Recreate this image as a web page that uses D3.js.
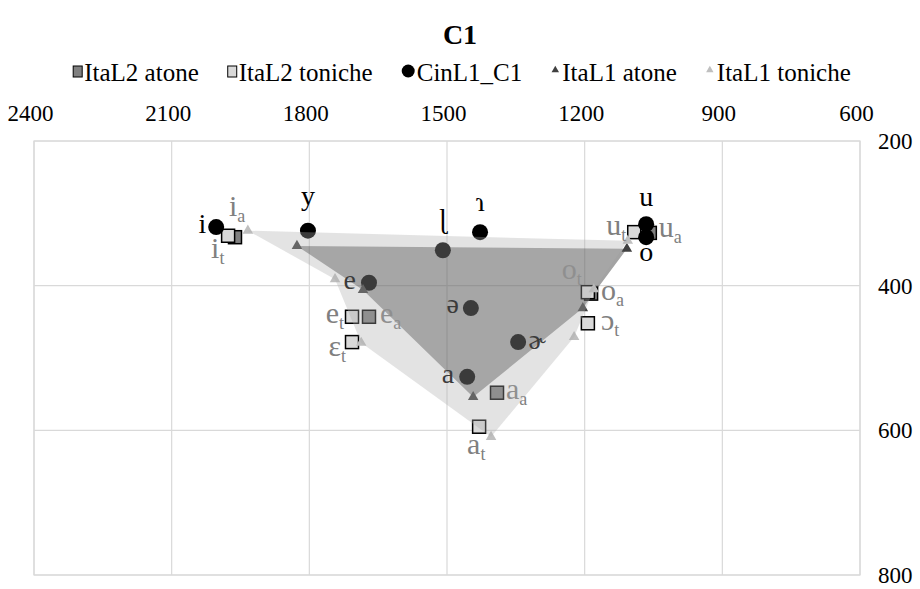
<!DOCTYPE html>
<html><head><meta charset="utf-8">
<script src="https://cdn.jsdelivr.net/npm/d3@7"></script>
<style>body{margin:0;background:#fff}svg{display:block} text{font-family:"Liberation Serif","DejaVu Serif",serif;}</style>
</head><body>
<svg id="c" width="920" height="589"></svg>
<script>
// ---------- data ----------
const title = "C1";
const f2Ticks = [2400, 2100, 1800, 1500, 1200, 900, 600];
const f1Ticks = [200, 400, 600, 800];
const seriesNames = ["ItaL2 atone", "ItaL2 toniche", "CinL1_C1", "ItaL1 atone", "ItaL1 toniche"];

const cinVowels = ["i", "y", "ɿ", "ɭ", "u", "o", "e", "ə", "ɚ", "a"];
const cinF2 = [2003, 1803, 1428, 1509, 1066, 1066, 1670, 1448, 1345, 1456];
const cinF1 = [319, 324, 326, 351, 315, 333, 396, 431, 478, 526];

const l2AtoneVowels = ["i", "e", "a", "o", "u"];
const l2AtoneF2 = [1962, 1670, 1391, 1186, 1058];
const l2AtoneF1 = [333, 443, 548, 411, 327];

const l2TonVowels = ["i", "e", "ɛ", "a", "ɔ", "o", "u"];
const l2TonF2 = [1977, 1707, 1707, 1430, 1193, 1193, 1092];
const l2TonF1 = [331, 443, 478, 595, 452, 409, 326];

const l1AtoneVowels = ["i", "e", "a", "o", "u"];
const l1AtoneF2 = [1827, 1683, 1443, 1204, 1108];
const l1AtoneF1 = [345, 406, 554, 431, 349];

const l1TonVowels = ["i", "e", "ɛ", "a", "ɔ", "o", "u"];
const l1TonF2 = [1934, 1744, 1687, 1404, 1223, 1180, 1106];
const l1TonF1 = [324, 391, 479, 609, 471, 405, 338];

// ---------- label layout (pixel offsets from marker) ----------
const cinLabelPos = [[-10,6,"end"],[0,-26,"middle"],[0,-21,"middle"],[0,-22,"middle"],[0,-18,"middle"],[0,24,"middle"],[-13,6,"end"],[-12,5,"end"],[10,7,"start"],[-13,6,"end"]];
const l2AtoneLabelPos = [[-6,-21,"start"],[11,6,"start"],[9,6,"start"],[10,6,"start"],[9,4,"start"]];
const l2TonLabelPos = [[-17,22,"start"],[-8,6,"end"],[-6,14,"end"],[-12,27,"start"],[13,7,"start"],[-6,-13,"end"],[-8,3,"end"]];

// ---------- setup ----------
const FONT = "Liberation Serif, DejaVu Serif, serif";
const svg = d3.select("#c");
const x = d3.scaleLinear().domain([2400, 600]).range([34, 860]);
const y = d3.scaleLinear().domain([200, 800]).range([141, 575]);
const GRID = "#d9d9d9";

// title
svg.append("text").attr("x", 460).attr("y", 44).attr("text-anchor", "middle").attr("font-family", FONT)
  .attr("font-size", 28).attr("font-weight", "bold").attr("fill", "#000").text(title);

// gridlines
const g = svg.append("g");
g.selectAll(".vx").data(f2Ticks).join("line")
  .attr("x1", d => x(d)).attr("x2", d => x(d)).attr("y1", y(200)).attr("y2", y(800))
  .attr("stroke", GRID).attr("stroke-width", 1.2);
g.selectAll(".hy").data(f1Ticks).join("line")
  .attr("y1", d => y(d)).attr("y2", d => y(d)).attr("x1", x(2400)).attr("x2", x(600))
  .attr("stroke", GRID).attr("stroke-width", 1.2);

// axes (labels only)
const xAxis = d3.axisTop(x).tickValues(f2Ticks).tickSize(0).tickPadding(0).tickFormat(d3.format("d"));
const ax = svg.append("g").attr("transform", `translate(-4,${y(200) - 20})`).call(xAxis);
ax.attr("font-family", FONT);
ax.select(".domain").remove();
ax.selectAll("text").attr("font-size", 23).attr("font-family", FONT).attr("fill", "#000");
const yAxis = d3.axisRight(y).tickValues(f1Ticks).tickSize(0).tickPadding(0).tickFormat(d3.format("d"));
const ay = svg.append("g").attr("transform", `translate(${x(600) + 18},0)`).call(yAxis);
ay.attr("font-family", FONT);
ay.select(".domain").remove();
ay.selectAll("text").attr("font-size", 23).attr("font-family", FONT).attr("fill", "#000");

// helper to build records
const rec = (v, f2, f1) => v.map((d, i) => ({v: d, f2: f2[i], f1: f1[i]}));
const cin = rec(cinVowels, cinF2, cinF1);
const l2a = rec(l2AtoneVowels, l2AtoneF2, l2AtoneF1);
const l2t = rec(l2TonVowels, l2TonF2, l2TonF1);
const l1a = rec(l1AtoneVowels, l1AtoneF2, l1AtoneF1);
const l1t = rec(l1TonVowels, l1TonF2, l1TonF1);

const line = d3.line().x(d => x(d.f2)).y(d => y(d.f1)).curve(d3.curveLinearClosed);

// dark polygon (ItaL1 atone) under markers
svg.append("path").datum(l1a).attr("d", line).attr("fill", "#000").attr("fill-opacity", 0.36);

// markers
const SQ = 13;
svg.append("g").selectAll("rect").data(l2a).join("rect")
  .attr("x", d => x(d.f2) - SQ/2).attr("y", d => y(d.f1) - SQ/2).attr("width", SQ).attr("height", SQ)
  .attr("fill", "#808080").attr("stroke", "#000").attr("stroke-width", 1.5);
svg.append("g").selectAll("rect").data(l2t).join("rect")
  .attr("x", d => x(d.f2) - SQ/2).attr("y", d => y(d.f1) - SQ/2).attr("width", SQ).attr("height", SQ)
  .attr("fill", "#d9d9d9").attr("stroke", "#000").attr("stroke-width", 1.5);
svg.append("g").selectAll("circle").data(cin).join("circle")
  .attr("cx", d => x(d.f2)).attr("cy", d => y(d.f1)).attr("r", 8).attr("fill", "#000");
const tri = d3.symbol().type(d3.symbolTriangle).size(48);
svg.append("g").selectAll("path").data(l1a).join("path")
  .attr("transform", d => `translate(${x(d.f2)},${y(d.f1)})`).attr("d", tri).attr("fill", "#404040");
svg.append("g").selectAll("path").data(l1t).join("path")
  .attr("transform", d => `translate(${x(d.f2)},${y(d.f1)})`).attr("d", tri).attr("fill", "#bfbfbf");

// labels
const lab = svg.append("g").attr("font-family", FONT);
cin.forEach((d, i) => {
  const p = cinLabelPos[i];
  lab.append("text").attr("x", x(d.f2) + p[0]).attr("y", y(d.f1) + p[1]).attr("text-anchor", p[2])
    .attr("font-family", FONT).attr("font-size", 28).attr("fill", "#000").text(d.v);
});
function subLabel(data, pos, sub) {
  data.forEach((d, i) => {
    const p = pos[i];
    const t = lab.append("text").attr("x", x(d.f2) + p[0]).attr("y", y(d.f1) + p[1]).attr("text-anchor", p[2])
      .attr("font-family", FONT).attr("font-size", 30).attr("fill", "#808080");
    t.append("tspan").text(d.v);
    t.append("tspan").attr("font-size", 18).attr("dy", 6).text(sub);
  });
}
subLabel(l2a, l2AtoneLabelPos, "a");
subLabel(l2t, l2TonLabelPos, "t");

// light polygon (ItaL1 toniche) on top
svg.append("path").datum(l1t).attr("d", line).attr("fill", "#acacac").attr("fill-opacity", 0.34);

// plot border
svg.append("rect").attr("x", x(2400)).attr("y", y(200)).attr("width", x(600) - x(2400)).attr("height", y(800) - y(200))
  .attr("fill", "none").attr("stroke", GRID).attr("stroke-width", 1.2);

// legend
const leg = svg.append("g").attr("font-family", FONT);
const legY = 81;
const items = [];
seriesNames.forEach((name, i) => {
  const it = leg.append("g");
  if (i === 0 || i === 1) {
    it.append("rect").attr("x", 0).attr("y", -15).attr("width", 9).attr("height", 11)
      .attr("fill", i === 0 ? "#808080" : "#d9d9d9").attr("stroke", "#000").attr("stroke-width", 1);
  } else if (i === 2) {
    it.append("circle").attr("cx", 6.5).attr("cy", -10).attr("r", 6.5).attr("fill", "#000");
  } else {
    it.append("path").attr("transform", "translate(4,-11)").attr("d", d3.symbol().type(d3.symbolTriangle).size(24))
      .attr("fill", i === 3 ? "#404040" : "#bfbfbf");
  }
  const mw = i === 2 ? 13 : 9;
  const t = it.append("text").attr("x", mw + 2).attr("y", 0).attr("font-family", FONT)
    .attr("font-size", 25).attr("fill", "#000").text(name);
  const w = mw + 2 + t.node().getComputedTextLength();
  items.push({it, w});
});
const gap = 29;
const total = d3.sum(items, d => d.w) + gap * (items.length - 1);
let start = 462 - total / 2;
items.forEach(d => { d.it.attr("transform", `translate(${start},${legY})`); start += d.w + gap; });
</script>
</body></html>
